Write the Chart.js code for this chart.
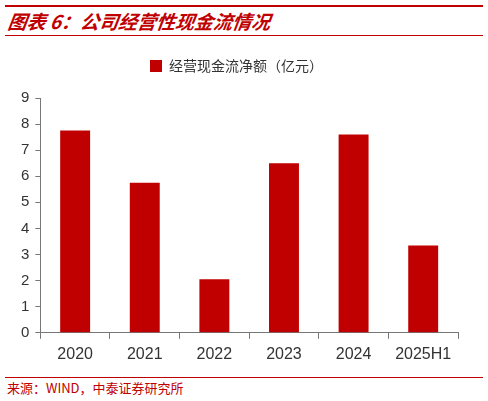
<!DOCTYPE html>
<html><head><meta charset="utf-8">
<script src="https://cdn.jsdelivr.net/npm/chart.js@4"></script>
<style>
body{margin:0;width:488px;height:401px;background:#fff;position:relative;overflow:hidden;font-family:"Noto Sans CJK SC",sans-serif}
#t1{position:absolute;left:5px;top:5px;width:478px;height:2px;background:#c00000}
#title{position:absolute;left:8px;top:8px;font-size:19px;font-weight:bold;font-style:italic;color:#c00000;line-height:26px;transform:skewX(-8deg)}
#t2{position:absolute;left:5px;top:35px;width:478px;height:1px;background:#c00000}
#b1{position:absolute;left:5px;top:377px;width:478px;height:1px;background:#c00000}
#src{position:absolute;left:7px;top:379px;font-size:13px;color:#c00000;line-height:18px}
#wrap{position:absolute;left:0;top:39px;width:488px;height:333px}
</style></head><body>
<div id="t1"></div><div id="title">图表 6：公司经营性现金流情况</div><div id="t2"></div>
<div id="wrap"><canvas id="c"></canvas></div>
<div id="b1"></div><div id="src">来源：WIND，中泰证券研究所</div>
<script>
const categories=["2020","2021","2022","2023","2024","2025H1"];
const values=[7.75,5.75,2.05,6.5,7.6,3.35];
const seriesName="经营现金流净额（亿元）";
new Chart(document.getElementById('c'),{
type:'bar',
data:{labels:categories,datasets:[{label:seriesName,data:values,backgroundColor:'#c00000',barPercentage:0.43,categoryPercentage:1}]},
plugins:[{id:'lh',beforeInit(c){const f=c.legend.fit;c.legend.fit=function(){f.call(this);this.height+=15;};}}],
options:{responsive:true,maintainAspectRatio:false,animation:false,
layout:{padding:{left:15,right:30,top:8,bottom:2}},
plugins:{legend:{labels:{boxWidth:12,boxHeight:12,font:{size:14,family:"Noto Sans CJK SC"},color:'#333',padding:12}},tooltip:{enabled:false}},
scales:{
x:{grid:{display:true,drawOnChartArea:false,offset:true,tickLength:6,color:'#777'},border:{color:'#777'},ticks:{font:{size:16,family:"Liberation Sans"},color:'#333',padding:6}},
y:{min:0,max:9,ticks:{stepSize:1,font:{size:15,family:"Liberation Sans"},color:'#333',padding:6},grid:{display:true,drawOnChartArea:false,tickLength:5,color:'#777'},border:{color:'#777'}}
}}});
</script></body></html>
